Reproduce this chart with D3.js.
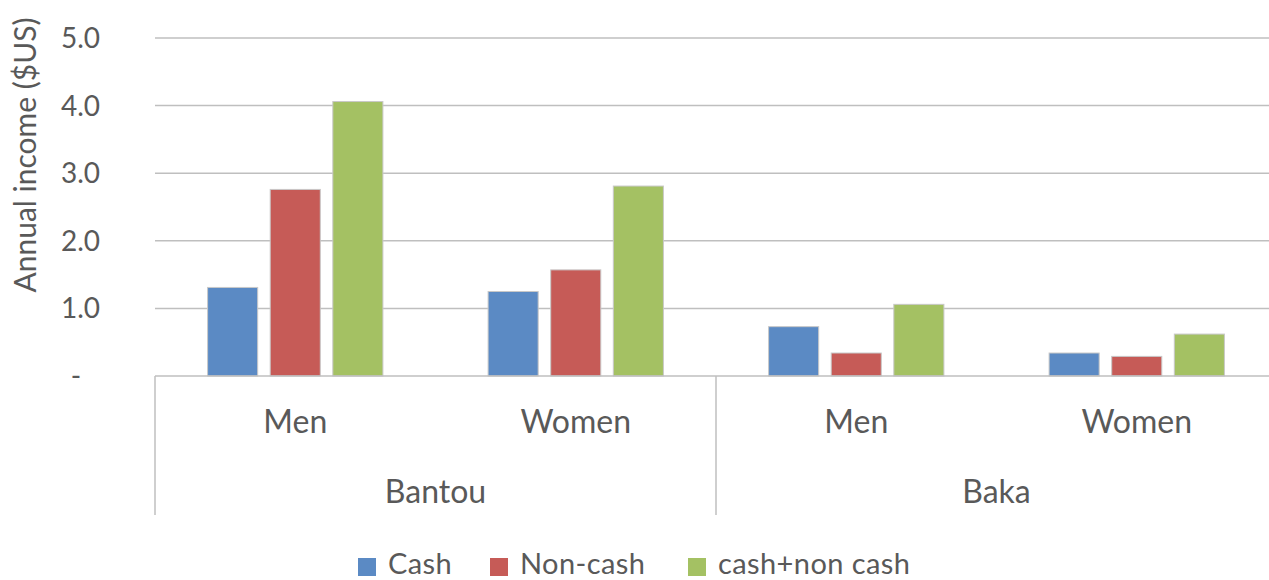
<!DOCTYPE html>
<html>
<head>
<meta charset="utf-8">
<script src="https://cdn.jsdelivr.net/npm/d3@7"></script>
<style>
  body { margin: 0; background: #fff; }
  svg text { font-family: Lato, "Open Sans", sans-serif; fill: #595959; }
</style>
</head>
<body>
<div id="chart"></div>
<script>
  // data
  var groups = ['Bantou', 'Baka'];
  var subcats = ['Men', 'Women'];
  var seriesNames = ['Cash', 'Non-cash', 'cash+non cash'];
  var seriesColors = ['#5b8ac4', '#c65b57', '#a4c163'];
  var cash = [1.31, 1.25, 0.73, 0.34];
  var nonCash = [2.76, 1.57, 0.34, 0.29];
  var combined = [4.06, 2.81, 1.06, 0.62];
  var yTicks = [0, 1, 2, 3, 4, 5];

  var w = 1269;
  var h = 580;
  var plotLeft = 155;
  var plotRight = 1277; // the chart runs a bit past the picture's right edge
  var plotTop = 38;
  var plotBottom = 376;

  var svg = d3.select('#chart')
    .append('svg')
    .attr('width', w)
    .attr('height', h);

  // one entry per Men/Women column
  var cats = [];
  groups.forEach(function (g) {
    subcats.forEach(function (s) {
      cats.push({ key: g + '|' + s, group: g, label: s });
    });
  });
  var values = [cash, nonCash, combined];

  var x0 = d3.scaleBand()
    .domain(cats.map(function (d) { return d.key; }))
    .range([plotLeft, plotRight])
    .padding(0);

  var x1 = d3.scaleBand()
    .domain(seriesNames)
    .range([0, x0.bandwidth()])
    .paddingInner(0.2)
    .paddingOuter(0.84);

  var y = d3.scaleLinear()
    .domain([0, 5])
    .range([plotBottom, plotTop]);

  // gridlines
  svg.append('g')
    .selectAll('line')
    .data(yTicks.filter(function (t) { return t > 0; }))
    .enter()
    .append('line')
    .attr('x1', plotLeft)
    .attr('x2', plotRight)
    .attr('y1', function (d) { return y(d); })
    .attr('y2', function (d) { return y(d); })
    .attr('stroke', '#bfbfbf')
    .attr('stroke-width', 1.5);

  // y tick labels
  svg.append('g')
    .selectAll('text')
    .data(yTicks)
    .enter()
    .append('text')
    .attr('x', function (d) { return d === 0 ? 76 : 100; })
    .attr('y', function (d) { return y(d); })
    .attr('dy', '0.36em')
    .attr('text-anchor', function (d) { return d === 0 ? 'middle' : 'end'; })
    .style('font-size', '28px')
    .text(function (d) { return d === 0 ? '-' : d3.format('.1f')(d); });

  // y axis title
  svg.append('text')
    .attr('transform', 'translate(36,155) rotate(-90)')
    .attr('text-anchor', 'middle')
    .style('font-size', '30px')
    .text('Annual income ($US)');

  // bars
  var catG = svg.append('g')
    .selectAll('g')
    .data(cats)
    .enter()
    .append('g')
    .attr('transform', function (d) { return 'translate(' + x0(d.key) + ',0)'; });

  catG.selectAll('rect')
    .data(function (d, i) {
      return seriesNames.map(function (s, j) {
        return { name: s, value: values[j][i], color: seriesColors[j] };
      });
    })
    .enter()
    .append('rect')
    .attr('x', function (d) { return x1(d.name); })
    .attr('y', function (d) { return y(d.value); })
    .attr('width', x1.bandwidth())
    .attr('height', function (d) { return plotBottom - y(d.value); })
    .attr('fill', function (d) { return d.color; })
    .attr('stroke', '#c8c8c8')
    .attr('stroke-width', 1);

  // category axis
  svg.append('line')
    .attr('x1', plotLeft).attr('x2', plotRight)
    .attr('y1', plotBottom).attr('y2', plotBottom)
    .attr('stroke', '#bfbfbf')
    .attr('stroke-width', 1.5);

  var groupEdges = [plotLeft, x0(cats[2].key)];
  svg.append('g')
    .selectAll('line')
    .data(groupEdges)
    .enter()
    .append('line')
    .attr('x1', function (d) { return d; })
    .attr('x2', function (d) { return d; })
    .attr('y1', plotBottom)
    .attr('y2', 515)
    .attr('stroke', '#bfbfbf')
    .attr('stroke-width', 1.5);

  svg.append('g')
    .selectAll('text')
    .data(cats)
    .enter()
    .append('text')
    .attr('x', function (d) { return x0(d.key) + x0.bandwidth() / 2; })
    .attr('y', 433)
    .attr('text-anchor', 'middle')
    .style('font-size', '32px')
    .text(function (d) { return d.label; });

  svg.append('g')
    .selectAll('text')
    .data(groups)
    .enter()
    .append('text')
    .attr('x', function (g, i) {
      return x0(cats[i * 2].key) + x0.bandwidth();
    })
    .attr('y', 503)
    .attr('text-anchor', 'middle')
    .style('font-size', '32px')
    .text(function (d) { return d; });

  // legend
  var legendX = [358, 490, 688];
  var legend = svg.append('g')
    .selectAll('g')
    .data(seriesNames)
    .enter()
    .append('g')
    .attr('transform', function (d, i) { return 'translate(' + legendX[i] + ',558)'; });

  legend.append('rect')
    .attr('width', 18)
    .attr('height', 18)
    .attr('fill', function (d, i) { return seriesColors[i]; });

  legend.append('text')
    .attr('x', 30)
    .attr('y', 16)
    .style('font-size', '29px')
    .style('letter-spacing', '0.4px')
    .text(function (d) { return d; });
</script>
</body>
</html>
